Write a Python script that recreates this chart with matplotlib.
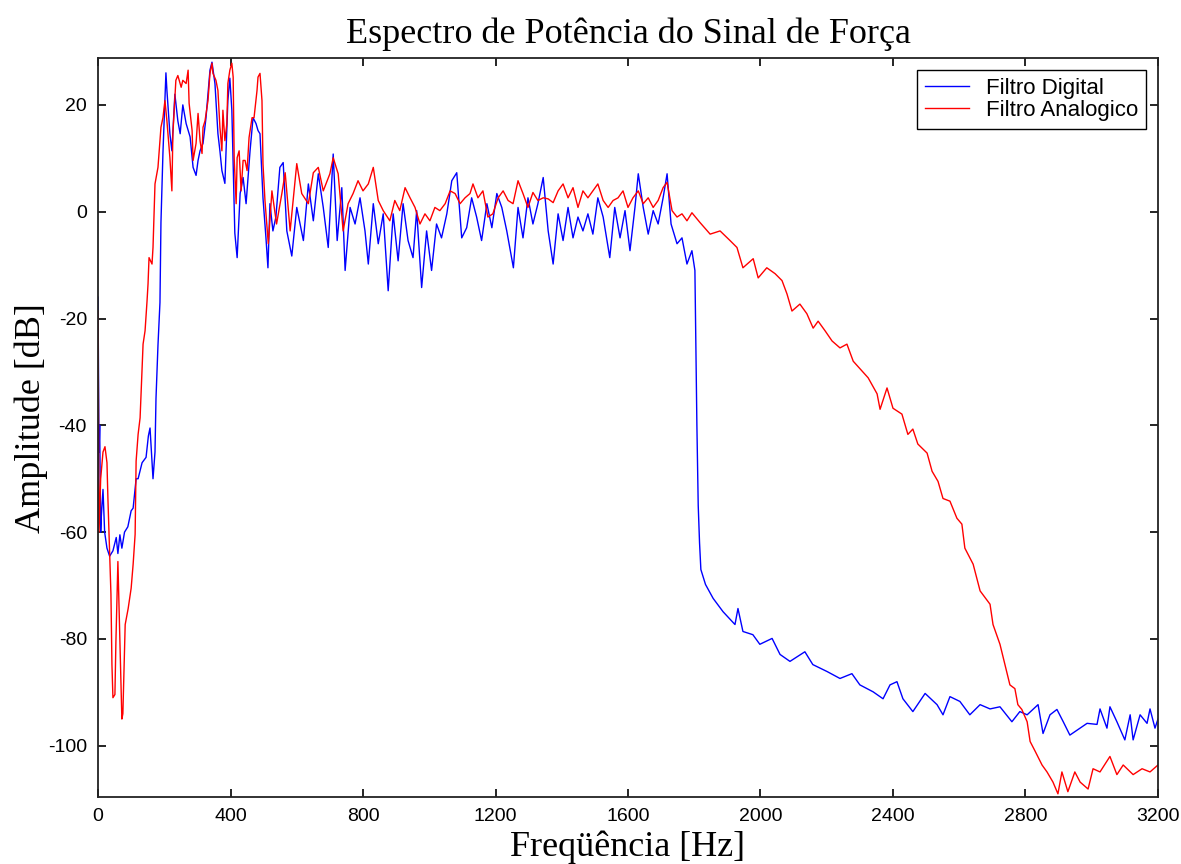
import matplotlib
matplotlib.use("Agg")
import matplotlib.pyplot as plt

# Filtro Digital (blue) - frequency [Hz] and amplitude [dB]
digital_f = [0, 3, 5, 8, 10, 15, 20, 27, 35, 45, 55, 60, 66, 72, 80, 90, 100, 106, 115, 121,
             133, 145, 152, 157, 163, 166, 172, 175, 181, 187, 190, 196, 205, 208, 217, 223, 232, 241, 248, 256,
             266, 278, 287, 296, 302, 308, 317, 326, 332, 338, 344, 353, 362, 368, 374, 383, 392, 398, 404, 413,
             420, 429, 438, 447, 459, 468, 477, 483, 489, 498, 507, 513, 519, 528, 537, 549, 559, 570, 585, 600,
             620, 635, 650, 665, 680, 695, 710, 722, 736, 746, 761, 776, 791, 806, 816, 831, 846, 861, 876, 891,
             906, 921, 936, 951, 962, 977, 992, 1007, 1022, 1037, 1053, 1068, 1083, 1098, 1113, 1128, 1143, 1158, 1174, 1189,
             1204, 1219, 1234, 1254, 1268, 1283, 1298, 1313, 1328, 1344, 1359, 1374, 1389, 1404, 1419, 1434, 1449, 1464, 1479, 1494,
             1509, 1525, 1545, 1560, 1576, 1591, 1606, 1621, 1631, 1646, 1661, 1676, 1691, 1706, 1718, 1730, 1748, 1763, 1778, 1793,
             1802, 1808, 1812, 1816, 1820, 1834, 1857, 1887, 1923, 1932, 1947, 1977, 1998, 2035, 2059, 2089, 2134, 2158, 2201, 2240,
             2276, 2300, 2340, 2370, 2391, 2412, 2430, 2460, 2497, 2533, 2551, 2572, 2602, 2632, 2663, 2693, 2723, 2759, 2783, 2805,
             2838, 2853, 2874, 2895, 2914, 2934, 2965, 2986, 3016, 3025, 3046, 3055, 3076, 3100, 3116, 3125, 3146, 3167, 3176, 3191,
             3200]
digital_db = [-16, -45, -40, -60, -57, -52, -60, -63, -64.5, -63.5, -61, -64, -60.5, -63, -60, -59, -56, -55.5, -50, -50,
              -47, -46, -42, -40.5, -47, -50, -45, -35, -25, -17, -2, 11, 26, 22.7, 14.6, 11.4, 22, 17, 14.6, 20,
              16.5, 14, 8.3, 6.8, 9.6, 11.4, 12.8, 17.6, 22, 26.5, 28, 24, 14.6, 11.4, 7.7, 5.3, 20.8, 25, 19, -4,
              -8.6, 3.4, 6.4, 1.5, 11.4, 17.6, 16.5, 15.2, 14.6, 2.6, -4.9, -10.5, 1.5, -3.6, -1, 8.3, 9.2, -3.6, -8.3, 0.8,
              -5.4, 5.2, -1.7, 7.1, 0.8, -6.7, 10.8, -5.4, 4.5, -11, 0.8, -2.3, 2.6, -3.6, -9.8, 1.5, -6, -0.4, -14.8, -0.4,
              -9.2, 1.5, -5.4, -8.6, 0.2, -14.2, -3.6, -11, -2.3, -4.9, -0.4, 5.8, 7.3, -4.9, -3, 2.6, -1, -5.4, 1.5, -3,
              3.4, 0.8, -3.6, -10.5, 0.8, -4.9, 2.6, -2.3, 1.5, 6.4, -3.6, -9.8, -0.4, -5.4, 0.8, -4.9, -1, -3.6, -0.4, -4.2,
              2.6, -1, -8.6, 0.8, -4.9, 0.2, -7.3, 0.8, 7.1, 0.8, -4.2, 0.2, -2.3, 2.6, 7.1, -2.3, -6, -4.9, -9.8, -7.3,
              -11, -40, -55, -62, -67, -69.8, -72.4, -74.9, -77.3, -74.3, -78.6, -79.2, -81, -79.9, -82.9, -84.2, -82.4, -84.8, -86.1, -87.4,
              -86.5, -88.6, -89.9, -91.2, -88.6, -88, -91.2, -93.6, -90.2, -92.3, -94.2, -90.8, -91.7, -94.2, -92.3, -93.1, -92.7, -95.5, -93.6, -94.2,
              -92.3, -97.7, -94.2, -93.2, -95.5, -98, -96.7, -95.8, -96, -93.1, -96.7, -92.7, -95.5, -98.9, -94.2, -98.9, -94.2, -95.8, -93.1, -96.7,
              -95]

# Filtro Analogico (red)
analog_f = [0, 3, 8, 15, 21, 27, 30, 39, 42, 45, 51, 54, 60, 66, 72, 75, 82, 91, 100, 106,
            112, 115, 121, 127, 133, 136, 142, 148, 151, 154, 163, 166, 172, 181, 190, 196, 202, 208, 217, 223,
            226, 235, 241, 251, 256, 266, 272, 275, 284, 287, 296, 302, 308, 314, 317, 323, 329, 332, 338, 344,
            347, 356, 362, 368, 374, 377, 383, 389, 392, 398, 404, 408, 411, 417, 420, 426, 432, 438, 444, 450,
            456, 465, 471, 480, 483, 489, 495, 498, 504, 514, 525, 539, 555, 565, 580, 600, 615, 635, 650, 665,
            680, 700, 710, 725, 740, 755, 770, 785, 800, 816, 831, 846, 861, 881, 896, 911, 927, 942, 957, 972,
            987, 1002, 1017, 1032, 1048, 1063, 1078, 1093, 1108, 1123, 1132, 1147, 1162, 1177, 1192, 1208, 1223, 1238, 1253, 1268,
            1283, 1298, 1313, 1328, 1344, 1359, 1374, 1389, 1404, 1419, 1434, 1449, 1464, 1479, 1494, 1509, 1525, 1540, 1555, 1570,
            1585, 1600, 1615, 1631, 1646, 1661, 1676, 1691, 1706, 1718, 1733, 1748, 1763, 1778, 1793, 1817, 1848, 1878, 1908, 1929,
            1947, 1978, 1993, 2019, 2044, 2065, 2080, 2095, 2119, 2140, 2159, 2174, 2195, 2216, 2240, 2261, 2280, 2306, 2325, 2352,
            2361, 2382, 2400, 2427, 2445, 2460, 2475, 2503, 2518, 2536, 2551, 2572, 2593, 2608, 2617, 2642, 2663, 2693, 2702, 2723,
            2738, 2753, 2768, 2777, 2789, 2805, 2814, 2829, 2850, 2865, 2883, 2898, 2910, 2928, 2949, 2965, 2989, 3004, 3025, 3055,
            3076, 3095, 3125, 3152, 3176, 3200]
analog_db = [-18.6, -60, -50, -45, -44, -47, -54, -71.6, -84.8, -91, -90.4, -80.5, -65.5, -80.5, -95, -94, -77.3, -74.3, -70.5, -66,
             -60.4, -46.7, -41.7, -38.6, -29.2, -24.8, -22.3, -16.7, -13.5, -8.6, -9.8, -6.7, 5.2, 8.3, 15.8, 17.6, 20.8, 17, 10.1, 3.9,
             14.6, 24.6, 25.5, 23.3, 24.6, 24, 26.5, 20.3, 15.2, 9.6, 12.8, 18.4, 13.3, 10.9, 15.8, 17, 19.5, 20.8, 25.9, 27.8,
             25.9, 24.6, 22.7, 15.8, 11.4, 19, 13.3, 16.5, 24, 26.5, 27.8, 25.2, 10.1, 1.5, 10.1, 11.4, 3.9, 9.6, 9.6, 7.7,
             13.9, 17.6, 17.6, 22.7, 25.2, 25.9, 20.8, 9, 2.1, -6, 3.9, -2.3, 3.4, 7.3, -3.6, 9, 3.4, 1.5, 7.3, 8.3,
             3.9, 7.1, 10.1, 7.1, -3.6, 1.5, 3.4, 5.8, 3.9, 5.2, 8.3, 2.1, 0.2, -1.7, 2.1, 0.2, 4.5, 2.6, 0.8, -2.3,
             -0.4, -1.7, 0.8, 0.2, 1.5, 3.9, 3.4, 1.5, 2.6, 3.4, 5.2, 2.6, 3.9, -1, -0.4, 2.6, 3.9, 2.1, 1.5, 5.8,
             3.4, 0.8, 3.6, 2.1, 2.6, 2.4, 1.7, 3.9, 5.2, 2.6, 4.5, 0.8, 3.9, 2.6, 3.9, 5.2, 2.1, 0.8, 2.1, 2.6,
             3.9, 0.8, 2.6, 3.9, 1.5, 2.6, 0.8, 2.1, 4.5, 5.5, 0.2, -1, -0.4, -1.7, -0.2, -2, -4.2, -3.6, -5.4, -6.7,
             -10.5, -8.8, -12.4, -10.5, -11.6, -12.9, -15.4, -18.6, -17.3, -19.1, -21.8, -20.5, -22.3, -24.2, -25.5, -24.8, -28, -29.8, -31.1, -34.1,
             -37, -33, -36.8, -37.9, -41.7, -40.7, -43.5, -45.2, -48.6, -50.5, -53.7, -54.2, -57.4, -58.5, -63, -66, -71, -73.5, -77.3, -81,
             -84.8, -88.6, -89.3, -92.3, -93.2, -95.5, -99.2, -101, -103.6, -104.9, -106.8, -109, -104.9, -108.6, -104.9, -106.8, -108.1, -104.3, -104.9, -102,
             -105.4, -103.6, -105.4, -104.3, -104.9, -103.6]

x_ticks = [0, 400, 800, 1200, 1600, 2000, 2400, 2800, 3200]
y_ticks = [-100, -80, -60, -40, -20, 0, 20]

plt.rcParams['font.family'] = ['Liberation Sans', 'DejaVu Sans']
plt.rcParams['axes.unicode_minus'] = False

fig = plt.figure(figsize=(11.81, 8.64), dpi=100)
ax = fig.add_axes([0.083, 0.0775, 0.8975, 0.8555])

ax.plot(digital_f, digital_db, color='#0000ff', linewidth=1.0, label='Filtro Digital')
ax.plot(analog_f, analog_db, color='#ff0000', linewidth=1.0, label='Filtro Analogico')

ax.set_xlim(0, 3200)
ax.set_ylim(-109.6, 28.8)
ax.set_xticks(x_ticks)
ax.set_yticks(y_ticks)
ax.tick_params(direction='in', length=6, width=1.2, top=True, right=True,
               labelsize=14, pad=8)
for s in ax.spines.values():
    s.set_linewidth(1.3)
    s.set_color('#222222')

serif = ['Liberation Serif', 'DejaVu Serif']
ax.set_title('Espectro de Potência do Sinal de Força', family=serif, fontsize=26, pad=11)
ax.set_xlabel('Freqüência [Hz]', family=serif, fontsize=26, labelpad=4)
ax.set_ylabel('Amplitude [dB]', family=serif, fontsize=26, labelpad=2)
ax.yaxis.set_label_coords(-0.047, 0.513)

leg = ax.legend(loc='upper right', fontsize=16, fancybox=False, framealpha=1,
                edgecolor='black', borderaxespad=0.55, handlelength=2.0,
                borderpad=0.35, labelspacing=0.05, handletextpad=0.75)
leg.get_frame().set_linewidth(1.0)

fig.savefig('out.png', dpi=100)
